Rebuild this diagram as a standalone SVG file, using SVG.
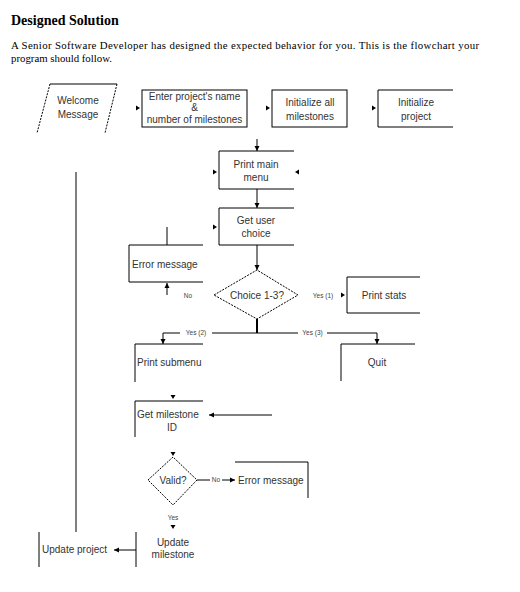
<svg xmlns="http://www.w3.org/2000/svg" width="520" height="592" viewBox="0 0 520 592">
<style>
.bg{fill:#fff}
.ln{stroke:#000;stroke-width:1;fill:none}
.dash{stroke:#000;stroke-width:1;fill:none;stroke-dasharray:2,1.2}
.t{font-family:"Liberation Sans",Arial,sans-serif;font-size:10px;fill:#333}
.c{text-anchor:middle}
.s{font-family:"Liberation Sans",Arial,sans-serif;font-size:6.5px;fill:#444;text-anchor:middle}
.h{font-family:"Liberation Serif","Times New Roman",serif;fill:#000}
.ah{fill:#000}
</style>
<defs>
<marker id="arr" markerUnits="userSpaceOnUse" markerWidth="6" markerHeight="6" refX="5" refY="3" orient="auto">
<path d="M0,0.5 L5,3 L0,5.5 z" fill="#000"/>
</marker>
</defs>
<rect class="bg" x="0" y="0" width="520" height="592"/>
<text class="h" x="11" y="25" font-size="14" font-weight="bold">Designed Solution</text>
<text class="h" x="11" y="48.5" font-size="10.8" textLength="468" lengthAdjust="spacing">A Senior Software Developer has designed the expected behavior for you. This is the flowchart your</text>
<text class="h" x="11" y="61.5" font-size="10.8">program should follow.</text>

<g id="welcome">
<line class="ln" x1="50" y1="84" x2="117" y2="84"/>
<line class="dash" x1="50" y1="84" x2="37" y2="133"/>
<line class="dash" x1="117" y1="84" x2="105" y2="133"/>
<text class="t c" x="78" y="104">Welcome</text>
<text class="t c" x="78" y="118">Message</text>
</g>
<g id="enter">
<rect class="ln" x="142" y="90" width="105" height="37"/>
<text class="t c" x="194.5" y="100">Enter project's name</text>
<text class="t c" x="194.5" y="111">&amp;</text>
<text class="t c" x="194.5" y="123">number of milestones</text>
</g>
<g id="initAll">
<rect class="ln" x="272" y="90" width="75" height="37"/>
<text class="t c" x="310" y="106">Initialize all</text>
<text class="t c" x="310" y="120">milestones</text>
</g>
<g id="initProject">
<path class="ln" d="M453,90 H378 V127 H453"/>
<text class="t c" x="416" y="106">Initialize</text>
<text class="t c" x="416" y="120">project</text>
</g>
<g id="printMenu">
<path class="ln" d="M294,151 H219 V189 H294"/>
<text class="t c" x="256" y="168">Print main</text>
<text class="t c" x="256" y="181">menu</text>
</g>
<g id="getChoice">
<path class="ln" d="M294,208 H219 V245 H294"/>
<text class="t c" x="256" y="224">Get user</text>
<text class="t c" x="256" y="237">choice</text>
</g>
<g id="error1">
<path class="ln" d="M203,245 H129 V282 H203"/>
<text class="t" x="132" y="268">Error message</text>
</g>
<g id="choice">
<polygon class="dash" points="214,295 257,270 298,295 257,319"/>
<text class="t c" x="257" y="298.5">Choice 1-3?</text>
</g>
<g id="printStats">
<path class="ln" d="M420,277 H347 V313 H420"/>
<text class="t c" x="384" y="298.5">Print stats</text>
</g>
<g id="printSubmenu">
<path class="ln" d="M203,344 H135 V382"/>
<text class="t" x="137" y="366">Print submenu</text>
</g>
<g id="quit">
<path class="ln" d="M415,344 H341 V381"/>
<text class="t c" x="377" y="366">Quit</text>
</g>
<g id="getMilestone">
<path class="ln" d="M203,401 H135 V437"/>
<text class="t" x="137" y="418">Get milestone</text>
<text class="t c" x="172" y="431">ID</text>
</g>
<g id="valid">
<polygon class="dash" points="148,480 173,457 197,480 173,505"/>
<text class="t c" x="173" y="483.5">Valid?</text>
</g>
<g id="error2">
<path class="ln" d="M235,462 H308 V498"/>
<text class="t" x="238" y="484">Error message</text>
</g>
<g id="updateMilestone">
<line class="ln" x1="136" y1="532" x2="136" y2="567"/>
<text class="t c" x="173" y="546">Update</text>
<text class="t c" x="173" y="558">milestone</text>
</g>
<g id="updateProject">
<line class="ln" x1="39" y1="532" x2="39" y2="567"/>
<text class="t" x="42" y="553">Update project</text>
</g>

<g id="connectors">
<polygon class="ah" points="136,105.5 140,108 136,110.5"/>
<polygon class="ah" points="266,105.5 270,108 266,110.5"/>
<polygon class="ah" points="372,105.5 376,108 372,110.5"/>
<line class="ln" x1="257" y1="139" x2="257" y2="151" marker-end="url(#arr)"/>
<polygon class="ah" points="213,169.5 217,172 213,174.5"/>
<polygon class="ah" points="299,169.5 295,172 299,174.5"/>
<line class="ln" x1="257" y1="189" x2="257" y2="208" marker-end="url(#arr)"/>
<polygon class="ah" points="213,224.5 217,227 213,229.5"/>
<line class="ln" x1="257" y1="245" x2="257" y2="270" marker-end="url(#arr)"/>
<line class="ln" x1="167" y1="227" x2="167" y2="245"/>
<line class="ln" x1="167" y1="295" x2="167" y2="283" marker-end="url(#arr)"/>
<text class="s" x="188" y="298">No</text>
<text class="s" x="323" y="297.5">Yes (1)</text>
<polygon class="ah" points="341,292.5 345,295 341,297.5"/>
<line x1="257" y1="319" x2="257" y2="333" stroke="#000" stroke-width="2"/>
<path class="ln" d="M257,333 H163 V344" marker-end="url(#arr)"/>
<path class="ln" d="M257,333 H377 V344" marker-end="url(#arr)"/>
<rect x="180" y="330" width="32" height="6" fill="#fff"/>
<text class="s" x="196" y="335.3">Yes (2)</text>
<rect x="298" y="330" width="29" height="6" fill="#fff"/>
<text class="s" x="312.5" y="335.3">Yes (3)</text>
<polygon class="ah" points="170.5,395 175.5,395 173,399"/>
<line class="ln" x1="272" y1="415" x2="209" y2="415" marker-end="url(#arr)"/>
<polygon class="ah" points="170.5,452 175.5,452 173,456"/>
<line class="ln" x1="197" y1="480" x2="210" y2="480"/>
<text class="s" x="216" y="482.3">No</text>
<line class="ln" x1="222" y1="480" x2="235" y2="480" marker-end="url(#arr)"/>
<text class="s" x="173" y="520">Yes</text>
<polygon class="ah" points="170.5,525 175.5,525 173,529"/>
<line class="ln" x1="136" y1="550" x2="114" y2="550" marker-end="url(#arr)"/>
<line class="ln" x1="76" y1="172" x2="76" y2="532"/>
</g>
</svg>
